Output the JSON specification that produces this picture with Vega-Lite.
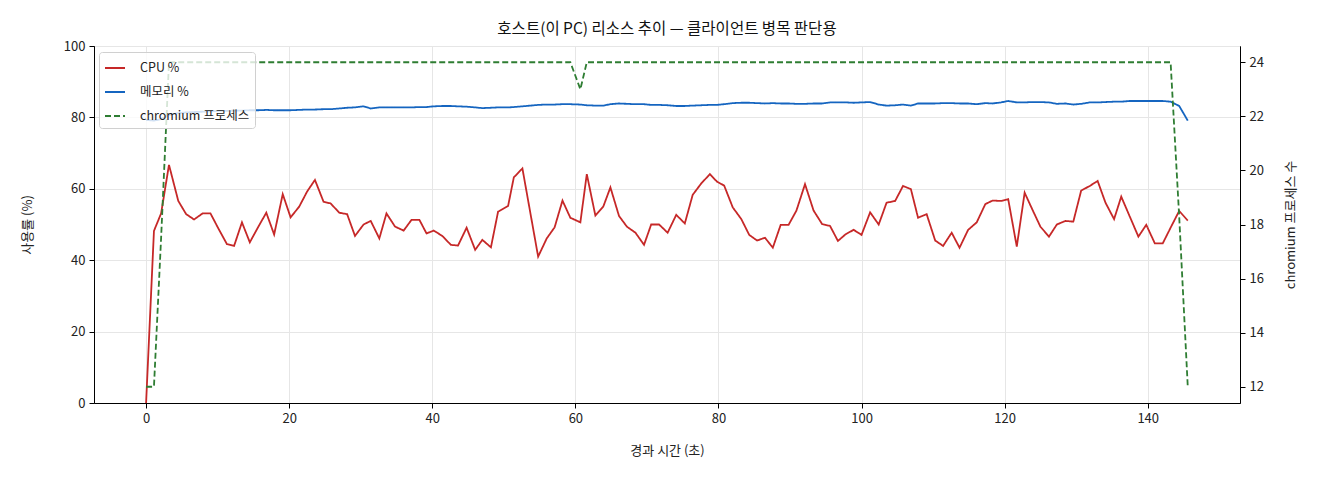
{
"$schema": "https://vega.github.io/schema/vega-lite/v6.json",
"width": 1146, "height": 357,
"autosize": "none",
"padding": {"left": 94, "top": 46, "right": 80, "bottom": 77},
"background": "white",
"title": {"text": "호스트(이 PC) 리소스 추이 — 클라이언트 병목 판단용", "fontSize": 15.5, "fontWeight": "normal", "font": "Noto Sans CJK KR", "color": "#111", "offset": 3},
"config": {
  "view": {"stroke": "black", "strokeWidth": 1},
  "font": "Noto Sans CJK KR",
  "axis": {"labelFont": "Noto Sans CJK KR", "titleFont": "Noto Sans CJK KR", "labelFontSize": 13, "titleFontSize": 13, "titleFontWeight": "normal", "labelColor": "#222", "titleColor": "#222", "tickColor": "black", "domainColor": "black", "tickSize": 5, "labelPadding": 4, "gridColor": "#e6e6e6", "gridWidth": 1}
},
"data": {"values": [
{"t":0,"cpu":0,"mem":79.3,"proc":12},
{"t":1.1,"cpu":48.2,"mem":79.1,"proc":12},
{"t":2.1,"cpu":53.1,"mem":79.5,"proc":17.5},
{"t":3.2,"cpu":66.7,"mem":80.7,"proc":24},
{"t":4.5,"cpu":56.6,"mem":81.2,"proc":24},
{"t":5.6,"cpu":52.9,"mem":81.4,"proc":24},
{"t":6.7,"cpu":51.4,"mem":81.5,"proc":24},
{"t":7.9,"cpu":53.1,"mem":81.6,"proc":24},
{"t":9.0,"cpu":53.1,"mem":81.7,"proc":24},
{"t":10.1,"cpu":48.9,"mem":81.8,"proc":24},
{"t":11.3,"cpu":44.5,"mem":81.8,"proc":24},
{"t":12.3,"cpu":44.0,"mem":81.9,"proc":24},
{"t":13.4,"cpu":50.6,"mem":81.9,"proc":24},
{"t":14.5,"cpu":45.0,"mem":82.0,"proc":24},
{"t":15.7,"cpu":49.4,"mem":82.0,"proc":24},
{"t":16.8,"cpu":53.3,"mem":82.1,"proc":24},
{"t":17.9,"cpu":47.2,"mem":82.0,"proc":24},
{"t":19.1,"cpu":58.5,"mem":82.0,"proc":24},
{"t":20.2,"cpu":52.0,"mem":82.0,"proc":24},
{"t":21.4,"cpu":55.0,"mem":82.1,"proc":24},
{"t":22.5,"cpu":59.2,"mem":82.2,"proc":24},
{"t":23.6,"cpu":62.5,"mem":82.2,"proc":24},
{"t":24.8,"cpu":56.4,"mem":82.3,"proc":24},
{"t":25.8,"cpu":55.9,"mem":82.3,"proc":24},
{"t":27.0,"cpu":53.3,"mem":82.5,"proc":24},
{"t":28.1,"cpu":52.9,"mem":82.7,"proc":24},
{"t":29.2,"cpu":46.8,"mem":82.8,"proc":24},
{"t":30.4,"cpu":50.0,"mem":83.1,"proc":24},
{"t":31.4,"cpu":51.0,"mem":82.5,"proc":24},
{"t":32.6,"cpu":46.1,"mem":82.8,"proc":24},
{"t":33.6,"cpu":53.1,"mem":82.8,"proc":24},
{"t":34.8,"cpu":49.4,"mem":82.8,"proc":24},
{"t":36.0,"cpu":48.3,"mem":82.8,"proc":24},
{"t":37.1,"cpu":51.3,"mem":82.8,"proc":24},
{"t":38.2,"cpu":51.3,"mem":82.9,"proc":24},
{"t":39.2,"cpu":47.5,"mem":82.9,"proc":24},
{"t":40.2,"cpu":48.3,"mem":83.1,"proc":24},
{"t":41.4,"cpu":46.8,"mem":83.2,"proc":24},
{"t":42.6,"cpu":44.3,"mem":83.2,"proc":24},
{"t":43.6,"cpu":44.1,"mem":83.1,"proc":24},
{"t":44.8,"cpu":49.1,"mem":83.0,"proc":24},
{"t":46.0,"cpu":42.9,"mem":82.8,"proc":24},
{"t":47.0,"cpu":45.7,"mem":82.6,"proc":24},
{"t":48.2,"cpu":43.6,"mem":82.7,"proc":24},
{"t":49.2,"cpu":53.6,"mem":82.8,"proc":24},
{"t":50.6,"cpu":55.2,"mem":82.8,"proc":24},
{"t":51.4,"cpu":63.2,"mem":82.9,"proc":24},
{"t":52.6,"cpu":65.7,"mem":83.1,"proc":24},
{"t":54.8,"cpu":41.0,"mem":83.5,"proc":24},
{"t":56.0,"cpu":46.1,"mem":83.6,"proc":24},
{"t":57.1,"cpu":49.2,"mem":83.6,"proc":24},
{"t":58.2,"cpu":56.7,"mem":83.7,"proc":24},
{"t":59.3,"cpu":51.9,"mem":83.7,"proc":24},
{"t":60.7,"cpu":50.6,"mem":83.6,"proc":23},
{"t":61.6,"cpu":64.1,"mem":83.4,"proc":24},
{"t":62.8,"cpu":52.5,"mem":83.3,"proc":24},
{"t":63.9,"cpu":55.0,"mem":83.3,"proc":24},
{"t":64.9,"cpu":60.4,"mem":83.7,"proc":24},
{"t":66.1,"cpu":52.4,"mem":83.9,"proc":24},
{"t":67.2,"cpu":49.4,"mem":83.8,"proc":24},
{"t":68.4,"cpu":47.7,"mem":83.7,"proc":24},
{"t":69.6,"cpu":44.3,"mem":83.7,"proc":24},
{"t":70.6,"cpu":50.0,"mem":83.5,"proc":24},
{"t":71.7,"cpu":50.0,"mem":83.5,"proc":24},
{"t":72.9,"cpu":47.7,"mem":83.4,"proc":24},
{"t":74.1,"cpu":52.7,"mem":83.2,"proc":24},
{"t":75.3,"cpu":50.3,"mem":83.2,"proc":24},
{"t":76.4,"cpu":58.3,"mem":83.3,"proc":24},
{"t":77.6,"cpu":61.5,"mem":83.4,"proc":24},
{"t":78.8,"cpu":64.1,"mem":83.5,"proc":24},
{"t":79.8,"cpu":62.0,"mem":83.5,"proc":24},
{"t":80.8,"cpu":60.9,"mem":83.7,"proc":24},
{"t":82.0,"cpu":54.8,"mem":84.0,"proc":24},
{"t":83.2,"cpu":51.5,"mem":84.1,"proc":24},
{"t":84.3,"cpu":47.1,"mem":84.1,"proc":24},
{"t":85.4,"cpu":45.5,"mem":84.0,"proc":24},
{"t":86.5,"cpu":46.3,"mem":83.9,"proc":24},
{"t":87.6,"cpu":43.5,"mem":84.0,"proc":24},
{"t":88.7,"cpu":49.9,"mem":83.9,"proc":24},
{"t":89.8,"cpu":49.9,"mem":83.9,"proc":24},
{"t":90.9,"cpu":53.9,"mem":83.8,"proc":24},
{"t":92.1,"cpu":61.3,"mem":83.8,"proc":24},
{"t":93.3,"cpu":53.9,"mem":83.9,"proc":24},
{"t":94.5,"cpu":50.1,"mem":83.9,"proc":24},
{"t":95.6,"cpu":49.6,"mem":84.2,"proc":24},
{"t":96.7,"cpu":45.4,"mem":84.2,"proc":24},
{"t":97.8,"cpu":47.3,"mem":84.2,"proc":24},
{"t":98.9,"cpu":48.5,"mem":84.1,"proc":24},
{"t":100.0,"cpu":47.1,"mem":84.2,"proc":24},
{"t":101.2,"cpu":53.4,"mem":84.3,"proc":24},
{"t":102.4,"cpu":50.0,"mem":83.6,"proc":24},
{"t":103.5,"cpu":56.1,"mem":83.3,"proc":24},
{"t":104.7,"cpu":56.6,"mem":83.4,"proc":24},
{"t":105.8,"cpu":60.8,"mem":83.6,"proc":24},
{"t":106.9,"cpu":59.9,"mem":83.3,"proc":24},
{"t":107.9,"cpu":51.9,"mem":83.9,"proc":24},
{"t":109.1,"cpu":52.9,"mem":83.9,"proc":24},
{"t":110.3,"cpu":45.5,"mem":83.9,"proc":24},
{"t":111.4,"cpu":44.0,"mem":84.0,"proc":24},
{"t":112.6,"cpu":47.7,"mem":84.0,"proc":24},
{"t":113.7,"cpu":43.5,"mem":83.9,"proc":24},
{"t":114.9,"cpu":48.5,"mem":83.9,"proc":24},
{"t":116.1,"cpu":50.6,"mem":83.7,"proc":24},
{"t":117.3,"cpu":55.7,"mem":84.0,"proc":24},
{"t":118.3,"cpu":56.7,"mem":83.9,"proc":24},
{"t":119.5,"cpu":56.6,"mem":84.2,"proc":24},
{"t":120.5,"cpu":57.1,"mem":84.6,"proc":24},
{"t":121.7,"cpu":43.8,"mem":84.2,"proc":24},
{"t":122.8,"cpu":58.9,"mem":84.2,"proc":24},
{"t":123.9,"cpu":54.1,"mem":84.3,"proc":24},
{"t":125.0,"cpu":49.4,"mem":84.3,"proc":24},
{"t":126.2,"cpu":46.6,"mem":84.2,"proc":24},
{"t":127.3,"cpu":50.0,"mem":83.8,"proc":24},
{"t":128.5,"cpu":51.0,"mem":83.9,"proc":24},
{"t":129.6,"cpu":50.8,"mem":83.6,"proc":24},
{"t":130.7,"cpu":59.5,"mem":83.8,"proc":24},
{"t":131.9,"cpu":60.8,"mem":84.2,"proc":24},
{"t":133.0,"cpu":62.2,"mem":84.2,"proc":24},
{"t":134.1,"cpu":56.1,"mem":84.3,"proc":24},
{"t":135.3,"cpu":51.5,"mem":84.4,"proc":24},
{"t":136.3,"cpu":57.8,"mem":84.4,"proc":24},
{"t":137.5,"cpu":52.2,"mem":84.6,"proc":24},
{"t":138.7,"cpu":46.6,"mem":84.6,"proc":24},
{"t":139.8,"cpu":49.9,"mem":84.6,"proc":24},
{"t":141.0,"cpu":44.7,"mem":84.6,"proc":24},
{"t":142.1,"cpu":44.7,"mem":84.6,"proc":24},
{"t":143.2,"cpu":49.1,"mem":84.4,"proc":24},
{"t":144.4,"cpu":53.8,"mem":83.2,"proc":18.3},
{"t":145.6,"cpu":51.1,"mem":79.1,"proc":12}
]},
"layer": [
 {
  "transform": [{"fold": ["cpu", "mem"], "as": ["series", "value"]}],
  "mark": {"type": "line", "strokeWidth": 1.8},
  "encoding": {
   "x": {"field": "t", "type": "quantitative", "scale": {"domain": [-7.28, 152.9], "nice": false, "zero": false},
         "axis": {"values": [0, 20, 40, 60, 80, 100, 120, 140], "title": "경과 시간 (초)", "titlePadding": 19, "grid": true}},
   "y": {"field": "value", "type": "quantitative", "scale": {"domain": [0, 100], "nice": false},
         "axis": {"orient": "left", "values": [0, 20, 40, 60, 80, 100], "title": "사용률 (%)", "titlePadding": 29, "grid": true}},
   "color": {"field": "series", "type": "nominal", "title": null,
     "scale": {"domain": ["cpu", "mem", "proc"], "range": ["#c62828", "#1565c0", "#2e7d32"]},
     "legend": {"orient": "none", "legendX": 5, "legendY": 6, "padding": 5, "fillColor": "rgba(255,255,255,0.8)", "strokeColor": "#d0d0d0", "cornerRadius": 3, "symbolType": "stroke", "symbolSize": 400, "symbolStrokeWidth": 1.8, "rowPadding": 6, "labelFontSize": 12.5, "labelFont": "Noto Sans CJK KR", "labelColor": "#222", "labelOffset": 14,
       "labelExpr": "datum.label == 'cpu' ? 'CPU %' : (datum.label == 'mem' ? '메모리 %' : 'chromium 프로세스')"}},
   "strokeDash": {"field": "series", "type": "nominal", "title": null,
     "scale": {"domain": ["cpu", "mem", "proc"], "range": [[1, 0], [1, 0], [6, 3]]}}
  }
 },
 {
  "transform": [{"fold": ["proc"], "as": ["series", "value"]}],
  "mark": {"type": "line", "strokeWidth": 1.8},
  "encoding": {
   "x": {"field": "t", "type": "quantitative"},
   "y": {"field": "value", "type": "quantitative", "scale": {"domain": [11.4, 24.6], "nice": false, "zero": false},
         "axis": {"orient": "right", "values": [12, 14, 16, 18, 20, 22, 24], "title": "chromium 프로세스 수", "titleAngle": 270, "titleBaseline": "bottom", "titlePadding": 34, "grid": false}},
   "color": {"field": "series", "type": "nominal", "title": null},
   "strokeDash": {"field": "series", "type": "nominal", "title": null}
  }
 }
],
"resolve": {"scale": {"y": "independent"}}
}
